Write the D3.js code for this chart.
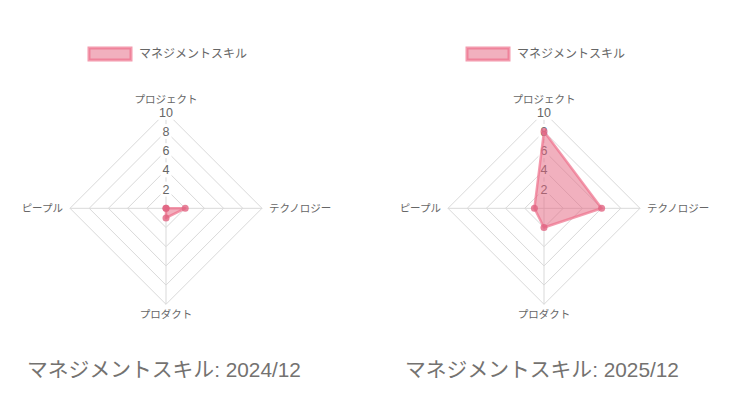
<!DOCTYPE html>
<html>
<head>
<meta charset="utf-8">
<script src="https://cdn.jsdelivr.net/npm/d3@7"></script>
<style>
  body { margin: 0; background: #fff; }
  svg text { font-family: "Liberation Sans", "Noto Sans CJK JP", sans-serif; }
</style>
</head>
<body>
<svg id="chart" width="752" height="420"></svg>
<script>
// chart data
var axisLabels = ['プロジェクト', 'テクノロジー', 'プロダクト', 'ピープル'];
var values2024 = [0, 2, 1, 0];
var values2025 = [8, 6, 2, 1];
var tickValues = [2, 4, 6, 8, 10];
var seriesName = 'マネジメントスキル';
var chartTitles = ['マネジメントスキル: 2024/12', 'マネジメントスキル: 2025/12'];
var panelValues = [values2024, values2025];

var svg = d3.select('#chart');
var R = 96;
var r = d3.scaleLinear().domain([0, 10]).range([0, R]);
var angle = function(i) { return -Math.PI / 2 + i * 2 * Math.PI / axisLabels.length; };
var pt = function(i, v) { return [r(v) * Math.cos(angle(i)), r(v) * Math.sin(angle(i))]; };

var fillColor = 'rgba(228,98,125,0.5)';
var lineColor = 'rgba(238,112,140,0.7)';
var gridColor = '#d9d9d9';

panelValues.forEach(function(values, p) {
    var panel = svg.append('g').attr('transform', 'translate(' + (p * 378) + ',0)');

    // legend
    panel.append('rect')
        .attr('x', 89).attr('y', 48).attr('width', 42).attr('height', 12)
        .attr('fill', fillColor)
        .attr('stroke', lineColor).attr('stroke-width', 3);
    panel.append('text')
        .attr('x', 139).attr('y', 54).attr('dy', '0.35em')
        .style('font-size', '12px').attr('fill', '#666')
        .text(seriesName);

    var g = panel.append('g').attr('transform', 'translate(166,208.3)');

    // grid rings
    g.selectAll('.ring').data(tickValues).enter().append('polygon')
        .attr('points', function(t) {
            return axisLabels.map(function(d, i) { return pt(i, t).join(','); }).join(' ');
        })
        .attr('fill', 'none').attr('stroke', gridColor).attr('stroke-width', 1);

    // angle lines
    g.selectAll('.spoke').data(axisLabels).enter().append('line')
        .attr('x1', 0).attr('y1', 0)
        .attr('x2', function(d, i) { return pt(i, 10)[0]; })
        .attr('y2', function(d, i) { return pt(i, 10)[1]; })
        .attr('stroke', gridColor).attr('stroke-width', 1);

    // tick labels with white backdrop
    var ticks = g.selectAll('.tick').data(tickValues).enter().append('g')
        .attr('transform', function(t) { return 'translate(0,' + (-r(t)) + ')'; });
    ticks.append('rect')
        .attr('x', function(t) { return t >= 10 ? -9 : -5.5; })
        .attr('y', -7.5)
        .attr('width', function(t) { return t >= 10 ? 18 : 11; })
        .attr('height', 15)
        .attr('fill', '#fff');
    ticks.append('text')
        .attr('text-anchor', 'middle').attr('dy', '0.36em')
        .style('font-size', '12.5px').attr('fill', '#666')
        .text(function(t) { return t; });

    // point labels
    g.selectAll('.plabel').data(axisLabels).enter().append('text')
        .attr('x', function(d, i) {
            var c = Math.cos(angle(i));
            return pt(i, 10)[0] + (Math.abs(c) > 0.5 ? c * 7 : 0);
        })
        .attr('y', function(d, i) {
            var s = Math.sin(angle(i));
            return pt(i, 10)[1] + (s < -0.5 ? -13 : (s > 0.5 ? 10 : 0));
        })
        .attr('dy', '0.35em')
        .attr('text-anchor', function(d, i) {
            var c = Math.cos(angle(i));
            return c > 0.5 ? 'start' : (c < -0.5 ? 'end' : 'middle');
        })
        .style('font-size', '10.5px').attr('fill', '#666')
        .text(function(d) { return d; });

    // data area
    g.append('polygon')
        .attr('points', values.map(function(v, i) { return pt(i, v).join(','); }).join(' '))
        .attr('fill', fillColor)
        .attr('stroke', lineColor).attr('stroke-width', 2.5)
        .attr('stroke-linejoin', 'round');

    g.selectAll('.dot').data(values).enter().append('circle')
        .attr('cx', function(v, i) { return pt(i, v)[0]; })
        .attr('cy', function(v, i) { return pt(i, v)[1]; })
        .attr('r', 3.5)
        .attr('fill', 'rgba(225,100,130,0.8)');

    // title below
    panel.append('text')
        .attr('x', 27).attr('y', 377)
        .style('font-size', '20.8px').attr('fill', '#747270')
        .text(chartTitles[p]);
});
</script>
</body>
</html>
